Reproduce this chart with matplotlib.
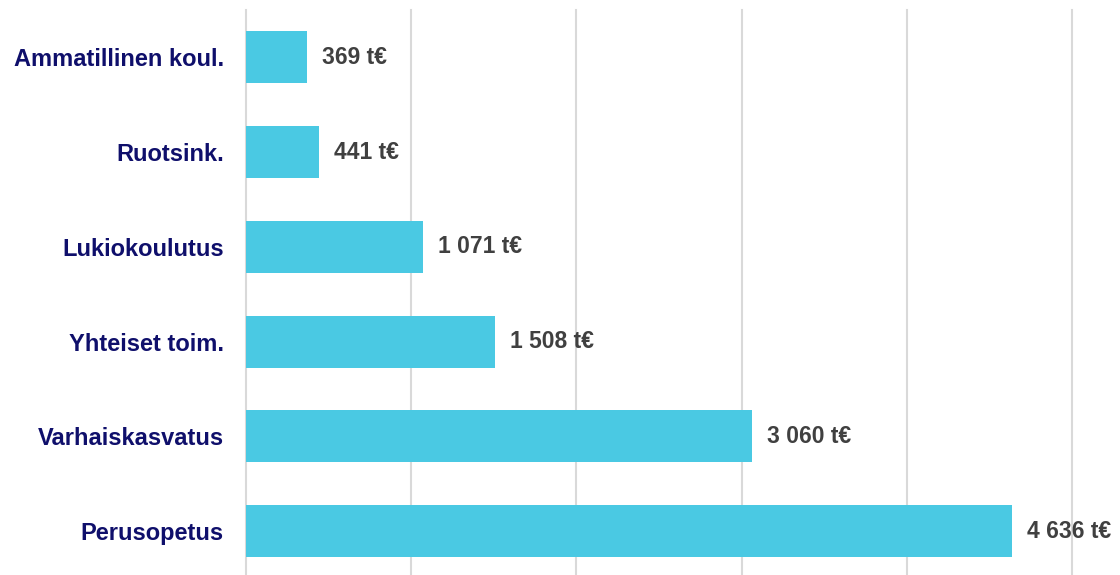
import matplotlib.pyplot as plt

# data
categories = ['Perusopetus', 'Varhaiskasvatus', 'Yhteiset toim.', 'Lukiokoulutus', 'Ruotsink.', 'Ammatillinen koul.']
values = [4636, 3060, 1508, 1071, 441, 369]
value_labels = ['4 636 t€', '3 060 t€', '1 508 t€', '1 071 t€', '441 t€', '369 t€']

plt.rcParams['font.family'] = ['Liberation Sans', 'DejaVu Sans']

fig = plt.figure(figsize=(11.2, 5.75), dpi=100)
ax = fig.add_axes([246 / 1120, 0, (1072 - 246) / 1120, 565 / 575])

ypos = range(len(categories))
bars = ax.barh(ypos, values, height=0.55, color='#4ac9e3', zorder=2)

for b, lab in zip(bars, value_labels):
    ax.annotate(lab, (b.get_width(), b.get_y() + b.get_height() / 2),
                xytext=(11, 0), textcoords='offset points', va='center', ha='left',
                fontsize=16.5, fontweight='bold', color='#404040')

ax.set_xlim(0, 5000)
ax.set_ylim(-0.464, 5.5)
ax.set_xticks([0, 1000, 2000, 3000, 4000, 5000])
ax.set_xticklabels([])
ax.set_yticks(list(ypos))
ax.set_yticklabels(categories, fontsize=17, fontweight='bold', color='#0f0f6b')
ax.tick_params(axis='y', length=0, pad=16)
ax.tick_params(axis='x', length=0)
ax.grid(axis='x', color='#d9d9d9', linewidth=1.5, zorder=0)
for gl in ax.get_xgridlines():
    gl.set_clip_on(False)
for s in ax.spines.values():
    s.set_visible(False)

fig.savefig('out.png', dpi=100)
